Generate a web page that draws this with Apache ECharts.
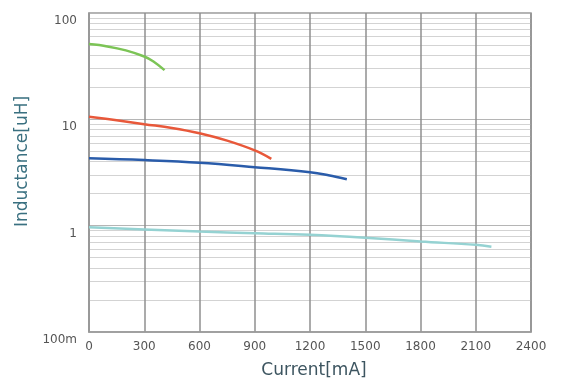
<!DOCTYPE html>
<html>
<head>
<meta charset="utf-8">
<script src="https://cdn.jsdelivr.net/npm/echarts@6/dist/echarts.min.js"></script>
<style>
html,body{margin:0;padding:0;background:#fff;}
#chart{width:569px;height:385px;}
</style>
</head>
<body>
<div id="chart"></div>
<script>
// Tick labels
var xTickLabels = ['0','300','600','900','1200','1500','1800','2100','2400'];
var yTickValues = [0.1, 1, 10, 100];
var yTickLabels = ['100m','1','10','100'];

// Series data: [current mA, inductance uH]
var greenCurve = [[0,51],[100,48.5],[200,44.5],[300,39],[350,35],[410,29]];
var redCurve = [[0,10.6],[150,9.8],[300,9.0],[450,8.3],[600,7.4],[750,6.3],[900,5.1],[990,4.25]];
var blueCurve = [[0,4.3],[300,4.14],[600,3.91],[900,3.55],[1200,3.18],[1300,2.98],[1400,2.73]];
var cyanCurve = [[0,0.965],[300,0.92],[600,0.88],[900,0.85],[1200,0.82],[1500,0.77],[1800,0.71],[2100,0.66],[2185,0.635]];

// Minor horizontal gridline values (2..9 in each decade)
var minorGridValues = [0.2,0.3,0.4,0.5,0.6,0.7,0.8,0.9,2,3,4,5,6,7,8,9,20,30,40,50,60,70,80,90];

var chart = echarts.init(document.getElementById('chart'), null, {renderer:'canvas'});

function yLabel(v){
  for (var i=0;i<yTickValues.length;i++){
    if (Math.abs(v - yTickValues[i]) < 1e-9 * Math.max(1,yTickValues[i])) return yTickLabels[i];
  }
  return '';
}

var option = {
  animation:false,
  backgroundColor:'#fff',
  grid:{left:89,right:38,top:13,bottom:53,containLabel:false,outerBoundsMode:'none',
        show:true,borderColor:'#9a9a9a',borderWidth:1.5},
  xAxis:{
    type:'value',min:0,max:2400,interval:300,
    name:'Current[mA]',nameLocation:'middle',nameGap:30,
    nameTextStyle:{fontFamily:'DejaVu Sans',fontSize:17,color:'#3d5560',padding:[0,0,0,8]},
    axisLine:{show:true,lineStyle:{color:'#9a9a9a',width:1.5}},
    axisTick:{show:false},
    axisLabel:{margin:9,fontFamily:'DejaVu Sans',fontSize:12,color:'#555',
      formatter:function(v){var i=Math.round(v/300);return xTickLabels[i]||'';}},
    splitLine:{show:true,lineStyle:{color:'#8f8f8f',width:1.5}},
    z:1
  },
  yAxis:{
    type:'log',logBase:10,min:0.1,max:100,
    name:'Inductance[uH]',nameLocation:'middle',nameGap:57,nameRotate:90,
    nameTextStyle:{fontFamily:'DejaVu Sans',fontSize:17,color:'#3a7080',padding:[0,0,0,22]},
    axisLine:{show:true,lineStyle:{color:'#9a9a9a',width:1.5}},
    axisTick:{show:false},
    axisLabel:{margin:12,fontFamily:'DejaVu Sans',fontSize:12,color:'#555',verticalAlign:'top',padding:[2,0,0,0],
      formatter:function(v){return yLabel(v);}},
    splitLine:{show:true,lineStyle:{color:'#b5b5b5',width:1}},
    z:1
  },
  series:[
    {type:'line',data:[],silent:true,z:0,zlevel:0,
     markLine:{silent:true,symbol:'none',label:{show:false},z:0,
       lineStyle:{color:'#d3d3d3',width:1,type:'solid'},
       data:minorGridValues.map(function(v){return {yAxis:v};})}},
    {type:'line',data:greenCurve,smooth:0.4,showSymbol:false,z:5,lineStyle:{color:'#7cc456',width:2.5}},
    {type:'line',data:redCurve,smooth:0.4,showSymbol:false,z:5,lineStyle:{color:'#e8583a',width:2.5}},
    {type:'line',data:blueCurve,smooth:0.4,showSymbol:false,z:5,lineStyle:{color:'#2a5caa',width:2.5}},
    {type:'line',data:cyanCurve,smooth:0.4,showSymbol:false,z:5,lineStyle:{color:'#95d2d2',width:2.5}}
  ]
};
chart.setOption(option);
</script>
</body>
</html>
